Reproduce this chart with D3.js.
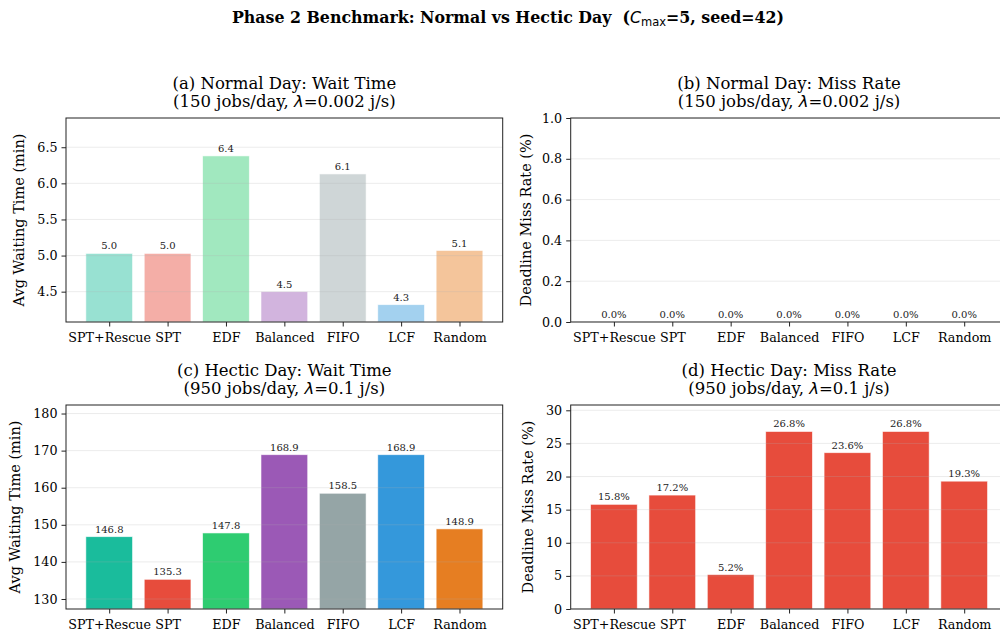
<!DOCTYPE html>
<html>
<head>
<meta charset="utf-8">
<script src="https://cdn.jsdelivr.net/npm/d3@7"></script>
<style>
  html, body { margin: 0; padding: 0; background: #fff; }
  svg { display: block; }
  text { font-family: "DejaVu Serif", serif; fill: #000; }
</style>
</head>
<body>
<svg id="chart" width="1000" height="637"></svg>
<script>
// Scheduling policies compared in every panel
const policies = ["SPT+Rescue", "SPT", "EDF", "Balanced", "FIFO", "LCF", "Random"];
const policyColors = ["#1abc9c", "#e74c3c", "#2ecc71", "#9b59b6", "#95a5a6", "#3498db", "#e67e22"];

// Normal day (150 jobs/day)
const normalWait = [5.03, 5.03, 6.38, 4.50, 6.13, 4.32, 5.07];
const normalMiss = [0.0, 0.0, 0.0, 0.0, 0.0, 0.0, 0.0];

// Hectic day (950 jobs/day)
const hecticWait = [146.8, 135.3, 147.8, 168.9, 158.5, 168.9, 148.9];
const hecticMiss = [15.8, 17.2, 5.2, 26.8, 23.6, 26.8, 19.3];

// Axis ranges and tick values per panel
const normalWaitDomain = [4.08, 6.905];
const normalWaitTicks = [4.5, 5.0, 5.5, 6.0, 6.5];
const normalMissDomain = [0, 1.0];
const normalMissTicks = [0.0, 0.2, 0.4, 0.6, 0.8, 1.0];
const hecticWaitDomain = [127.3, 182.3];
const hecticWaitTicks = [130, 140, 150, 160, 170, 180];
const hecticMissDomain = [0, 30.8];
const hecticMissTicks = [0, 5, 10, 15, 20, 25, 30];

const svg = d3.select("#chart");

// Figure title with the C_max math term
const sup = svg.append("text")
  .attr("x", 508).attr("y", 23)
  .attr("text-anchor", "middle")
  .style("font-size", "15.8px").style("font-weight", "bold");
sup.append("tspan").text("Phase 2 Benchmark: Normal vs Hectic Day\u00a0\u00a0(");
sup.append("tspan").text("C").style("font-family", "DejaVu Sans").style("font-style", "italic").style("font-weight", "normal");
sup.append("tspan").text("max").attr("dy", 3).style("font-family", "DejaVu Sans").style("font-size", "11.5px").style("font-weight", "normal");
sup.append("tspan").text("=5, seed=42)").attr("dy", -3);

const panelW = 436.7, panelH = 204;

function drawPanel(opts) {
  const g = svg.append("g").attr("transform", `translate(${opts.left},${opts.top})`);

  const x = d3.scaleLinear().domain([-0.74, 6.74]).range([0, panelW]);
  const y = d3.scaleLinear().domain(opts.domain).range([panelH, 0]);
  const bw = x(0.8) - x(0);

  // clip bars to the plotting area
  const clipId = "clip-" + opts.id;
  g.append("clipPath").attr("id", clipId)
    .append("rect").attr("width", panelW).attr("height", panelH);

  const plot = g.append("g").attr("clip-path", `url(#${clipId})`);

  plot.selectAll("rect.bar").data(opts.values).enter().append("rect")
    .attr("class", "bar")
    .attr("x", (d, i) => x(i) - bw / 2)
    .attr("width", bw)
    .attr("y", d => y(d))
    .attr("height", d => Math.max(0, y(opts.domain[0]) - y(d)))
    .attr("fill", (d, i) => opts.colors[i])
    .attr("fill-opacity", opts.alpha)
    .attr("stroke", "#fff")
    .attr("stroke-opacity", 0.7)
    .attr("stroke-width", 0.8);

  // horizontal grid above bars
  plot.selectAll("line.grid").data(opts.ticks).enter().append("line")
    .attr("class", "grid")
    .attr("x1", 0).attr("x2", panelW)
    .attr("y1", d => y(d)).attr("y2", d => y(d))
    .attr("stroke", "#b0b0b0").attr("stroke-opacity", 0.3).attr("stroke-width", 0.8);

  // value labels
  g.selectAll("text.val").data(opts.values).enter().append("text")
    .attr("class", "val")
    .attr("x", (d, i) => x(i))
    .attr("y", d => y(Math.max(d, opts.domain[0])) - 4)
    .attr("text-anchor", "middle")
    .style("font-size", "10px")
    .style("fill", "#222")
    .text(d => opts.fmt(d));

  // axes
  const yAxis = d3.axisLeft(y).tickValues(opts.ticks).tickFormat(opts.tickFmt).tickSize(4.5).tickPadding(4);
  const gy = g.append("g").call(yAxis);
  const xAxis = d3.axisBottom(x).tickValues(d3.range(policies.length)).tickFormat(i => policies[i]).tickSize(4.5).tickPadding(6);
  const gx = g.append("g").attr("transform", `translate(0,${panelH})`).call(xAxis);
  [gx, gy].forEach(a => {
    a.select(".domain").remove();
    a.selectAll("line").attr("stroke", "#222").attr("stroke-width", 1);
    a.selectAll("text").style("font-family", "DejaVu Serif").style("font-size", "12.7px").attr("fill", "#222");
  });

  // frame
  g.append("rect").attr("width", panelW).attr("height", panelH)
    .attr("fill", "none").attr("stroke", "#222").attr("stroke-width", 1);

  // y label
  g.append("text")
    .attr("transform", `translate(${opts.ylabelX},${panelH / 2}) rotate(-90)`)
    .attr("text-anchor", "middle")
    .style("font-size", "14.5px")
    .text(opts.ylabel);

  // two-line title
  const cx = panelW / 2;
  g.append("text").attr("x", cx).attr("y", -29).attr("text-anchor", "middle")
    .style("font-size", "16.5px").text(opts.title);
  const t2 = g.append("text").attr("x", cx).attr("y", -11.5).attr("text-anchor", "middle")
    .style("font-size", "16.5px");
  t2.append("tspan").text(opts.sub[0]);
  t2.append("tspan").text("\u03bb").style("font-family", "DejaVu Sans").style("font-style", "italic");
  t2.append("tspan").text(opts.sub[1]);
}

const pct = d => d.toFixed(1) + "%";
const one = d => d.toFixed(1);

drawPanel({
  id: "a", left: 66, top: 118, values: normalWait, colors: policyColors, alpha: 0.45,
  domain: normalWaitDomain, ticks: normalWaitTicks, tickFmt: d3.format(".1f"), fmt: one,
  ylabel: "Avg Waiting Time (min)", ylabelX: -42,
  title: "(a) Normal Day: Wait Time", sub: ["(150 jobs/day, ", "=0.002 j/s)"]
});
drawPanel({
  id: "b", left: 570.7, top: 118, values: normalMiss, colors: policyColors.map(() => "#e74c3c"), alpha: 1,
  domain: normalMissDomain, ticks: normalMissTicks, tickFmt: d3.format(".1f"), fmt: pct,
  ylabel: "Deadline Miss Rate (%)", ylabelX: -40,
  title: "(b) Normal Day: Miss Rate", sub: ["(150 jobs/day, ", "=0.002 j/s)"]
});
drawPanel({
  id: "c", left: 66, top: 405, values: hecticWait, colors: policyColors, alpha: 1,
  domain: hecticWaitDomain, ticks: hecticWaitTicks, tickFmt: d3.format("d"), fmt: one,
  ylabel: "Avg Waiting Time (min)", ylabelX: -46,
  title: "(c) Hectic Day: Wait Time", sub: ["(950 jobs/day, ", "=0.1 j/s)"]
});
drawPanel({
  id: "d", left: 570.7, top: 405, values: hecticMiss, colors: policyColors.map(() => "#e74c3c"), alpha: 1,
  domain: hecticMissDomain, ticks: hecticMissTicks, tickFmt: d3.format("d"), fmt: pct,
  ylabel: "Deadline Miss Rate (%)", ylabelX: -37.5,
  title: "(d) Hectic Day: Miss Rate", sub: ["(950 jobs/day, ", "=0.1 j/s)"]
});
</script>
</body>
</html>
